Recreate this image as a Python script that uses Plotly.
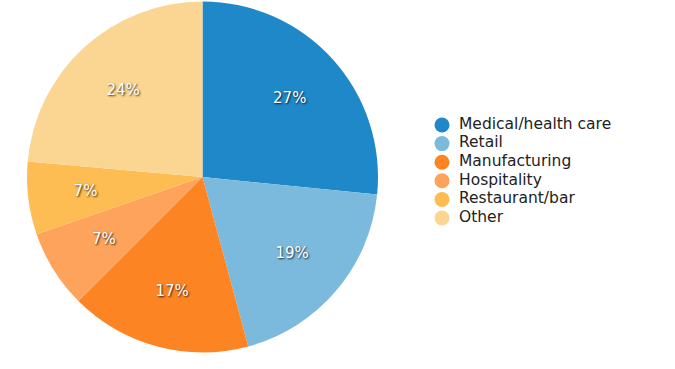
import plotly.graph_objects as go

labels = ["Medical/health care", "Retail", "Manufacturing", "Hospitality", "Restaurant/bar", "Other"]
values = [26.6, 19.2, 16.7, 7.2, 6.7, 23.6]
colors = ["#1f88c9", "#7bbadd", "#fd8423", "#fda35c", "#fdbd52", "#fad692"]

W, H = 675, 369
CX, CY, R = 202.5, 177, 175.5


def domain(r):
    return dict(x=[(CX - r) / W, (CX + r) / W], y=[(H - CY - r) / H, (H - CY + r) / H])


big = [v >= 10 for v in values]
tf = dict(family="DejaVu Sans", size=15, color="white",
          shadow="1px 1px 2px rgba(0,0,0,0.8)")
fig = go.Figure()
fig.add_trace(go.Pie(
    labels=labels, values=values, sort=False, direction="clockwise",
    marker=dict(colors=colors, line=dict(width=0)),
    textinfo="none", showlegend=False, hoverinfo="label+percent",
    domain=domain(R),
))
# transparent overlays that only carry the percent labels
for hole, keep, r in [(0.34, True, R), (0.0, False, 142.5)]:
    fig.add_trace(go.Pie(
        labels=labels, values=values, sort=False, direction="clockwise", hole=hole,
        marker=dict(colors=["rgba(0,0,0,0)"] * len(labels), line=dict(width=0)),
        texttemplate=["%{percent:.0%}" if b == keep else "" for b in big],
        textposition="inside", insidetextorientation="horizontal",
        textfont=tf, showlegend=False, hoverinfo="skip", domain=domain(r),
    ))
# legend drawn as a categorical scatter
fig.add_trace(go.Scatter(
    x=[0] * len(labels), y=labels, mode="markers",
    marker=dict(color=colors, size=15, symbol="circle"),
    hoverinfo="skip", showlegend=False, cliponaxis=False,
))
fig.add_trace(go.Scatter(
    x=[1.7] * len(labels), y=labels, mode="text", text=labels,
    textposition="middle right",
    textfont=dict(family="DejaVu Sans", size=15.5, color="#222"),
    hoverinfo="skip", showlegend=False, cliponaxis=False,
))
fig.update_layout(
    width=W, height=H, margin=dict(l=0, r=0, t=0, b=0),
    paper_bgcolor="white", plot_bgcolor="rgba(0,0,0,0)",
    xaxis=dict(visible=False, domain=[432 / W, 1], range=[-1, 23.3], fixedrange=True),
    yaxis=dict(visible=False, domain=[1 - 227.3 / H, 1 - 115.7 / H],
               range=[5.5, -0.5], type="category", fixedrange=True),
    showlegend=False,
)
fig.write_html("out.html", config={"displayModeBar": False},
               post_script="document.body.style.margin='0';")
